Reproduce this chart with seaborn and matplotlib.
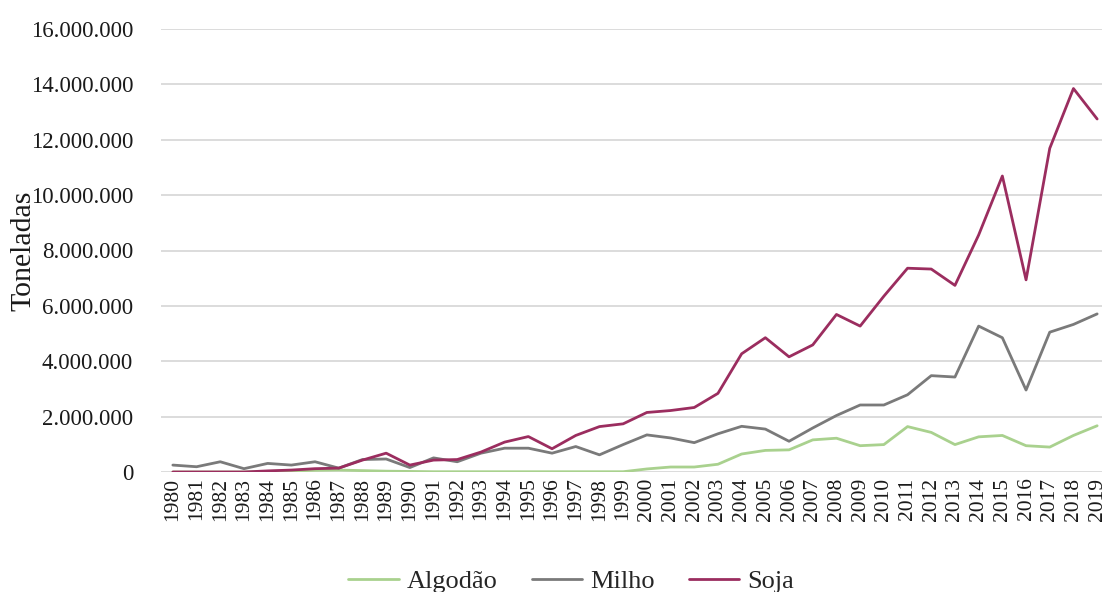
import numpy as np
import matplotlib
matplotlib.use('Agg')
import matplotlib.pyplot as plt
import matplotlib.ticker as mticker
import seaborn as sns
import pandas as pd

# Data (tonnes)
years = list(range(1980, 2020))
algodao = [0, 0, 0, 0, 20000, 40000, 60000, 70000, 50000, 30000,
           20000, 10000, 10000, 10000, 10000, 10000, 10000, 10000, 10000, 10000,
           110000, 180000, 180000, 280000, 650000, 780000, 800000, 1160000, 1220000, 950000,
           990000, 1640000, 1430000, 990000, 1270000, 1320000, 950000, 900000, 1320000, 1670000]
milho = [250000, 190000, 370000, 120000, 310000, 250000, 370000, 140000, 450000, 470000,
         160000, 510000, 370000, 680000, 860000, 860000, 680000, 920000, 620000, 990000,
         1340000, 1230000, 1060000, 1380000, 1650000, 1550000, 1110000, 1590000, 2040000, 2420000,
         2420000, 2790000, 3480000, 3430000, 5270000, 4850000, 2960000, 5050000, 5330000, 5710000]
soja = [0, 0, 0, 0, 40000, 70000, 120000, 140000, 430000, 680000,
        250000, 430000, 450000, 720000, 1080000, 1280000, 840000, 1320000, 1640000, 1740000,
        2150000, 2220000, 2330000, 2840000, 4270000, 4850000, 4160000, 4590000, 5690000, 5270000,
        6350000, 7360000, 7330000, 6740000, 8560000, 10690000, 6940000, 11690000, 13850000, 12750000]

series_names = ['Algodão', 'Milho', 'Soja']
colors = {'Algodão': '#a9d18e', 'Milho': '#7a7a7a', 'Soja': '#9b2d5f'}

df = pd.DataFrame({'Ano': years * 3,
                   'Toneladas': algodao + milho + soja,
                   'Cultura': [n for n in series_names for _ in years]})

sns.set_style('white')
plt.rcParams['font.family'] = ['Liberation Serif', 'DejaVu Serif']

fig = plt.figure(figsize=(11.02, 5.92), dpi=100)
ax = fig.add_axes([161 / 1102, 120 / 592, 948 / 1102, 443 / 592])

sns.lineplot(data=df, x='Ano', y='Toneladas', hue='Cultura', hue_order=series_names,
             palette=colors, linewidth=2.0, ax=ax)

ax.set_xlim(1979.5, 2019.5)
ax.set_ylim(0, 16000000)
ax.set_yticks(np.arange(0, 16000001, 2000000))
ax.yaxis.set_major_formatter(mticker.FuncFormatter(lambda v, p: f'{int(v):,}'.replace(',', '.')))
ax.set_xticks(years)
ax.set_xticklabels([str(y) for y in years], rotation=90)
ax.tick_params(axis='both', length=0, labelcolor='#1a1a1a')
ax.tick_params(axis='y', pad=20, labelsize=16.5)
ax.tick_params(axis='x', pad=4, labelsize=15.5)

ax.grid(axis='y', color='#d9d9d9', linewidth=1.3)
ax.set_axisbelow(True)
for s in ax.spines.values():
    s.set_visible(False)

ax.set_xlabel('')
ax.set_ylabel('Toneladas', fontsize=21.5, color='#1a1a1a', labelpad=-4)

handles, labels = ax.get_legend_handles_labels()
ax.get_legend().remove()
fig.legend(handles, labels, loc='center', bbox_to_anchor=(571 / 1102, 1 - 581 / 592),
           ncol=3, frameon=False, fontsize=19, handlelength=1.9, handletextpad=0.3,
           columnspacing=1.3)

fig.savefig('out.png', dpi=100)
